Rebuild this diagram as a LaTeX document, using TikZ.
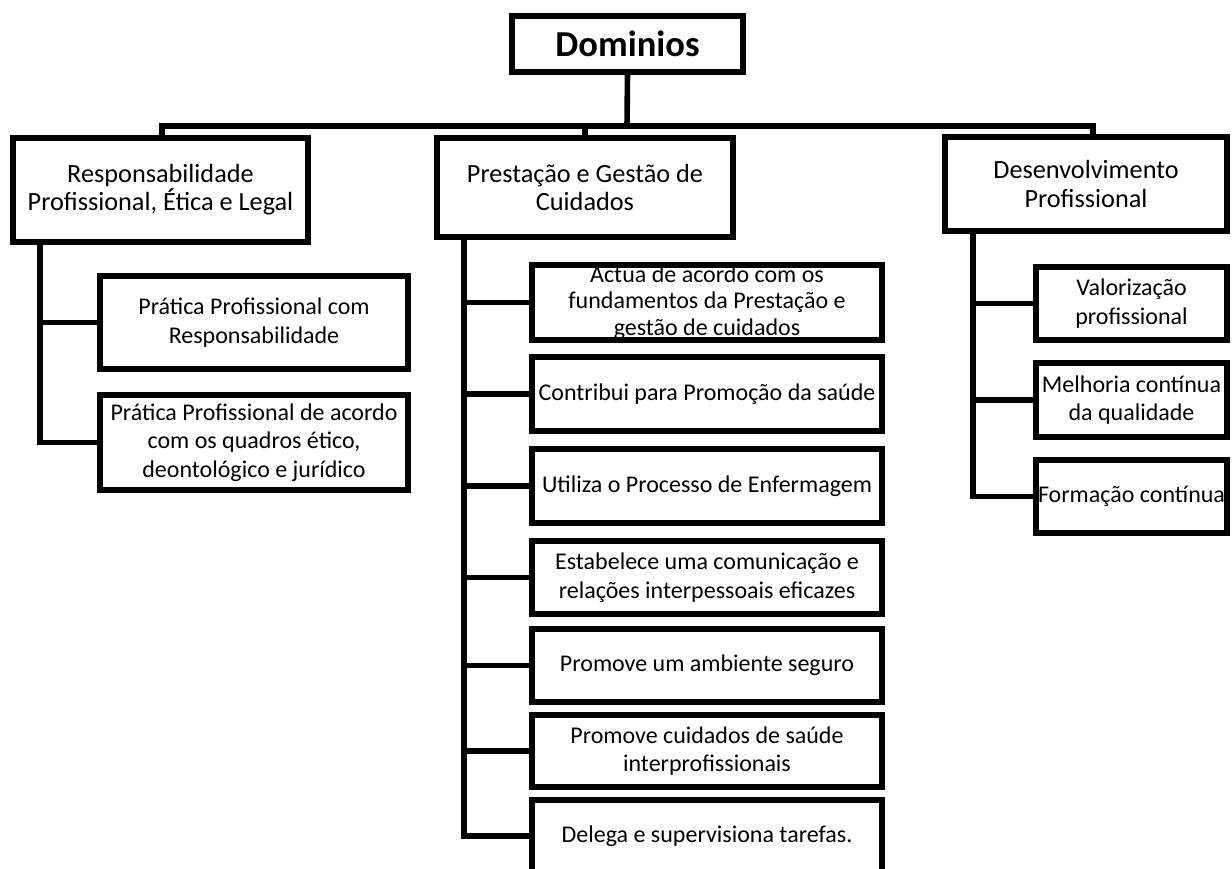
\documentclass[tikz,border=0pt]{standalone}
\usepackage{fontspec}
\setmainfont{Carlito}
\usetikzlibrary{calc}
\tikzset{
  bx/.style={draw, line width=4.2pt, rectangle, inner sep=0pt, align=center},
  topbox/.style={bx, font=\fontsize{27.4}{32}\selectfont\bfseries},
  lvlone/.style={bx, font=\fontsize{19.7}{21.2}\selectfont},
  lvltwo/.style={bx, font=\fontsize{18}{21.4}\selectfont},
  plaintxt/.style={inner sep=0pt, align=center, font=\fontsize{18}{20}\selectfont},
  conn/.style={line width=4.2pt, line join=miter}
}
\begin{document}
\begin{tikzpicture}[x=0.75pt,y=-0.75pt]
\useasboundingbox (0,0) rectangle (1232,868);
% top
\node[topbox, minimum width=173.25pt, minimum height=42pt] (dom) at (627.5,44) {Dominios};
% level one
\node[lvlone, minimum width=221.25pt, minimum height=78pt] (resp) at (160.5,190) {Responsabilidade\\Profissional, Ética e Legal};
\node[lvlone, minimum width=222pt, minimum height=74.25pt] (prest) at (585,187.5) {Prestação e Gestão de\\Cuidados};
\node[lvlone, minimum width=211.5pt, minimum height=70.5pt] (desenv) at (1086,184) {Desenvolvimento\\Profissional};
% level two, left
\node[lvltwo, minimum width=231pt, minimum height=69.75pt] (p1) at (254,322.5) {Prática Profissional com\\Responsabilidade};
\node[lvltwo, minimum width=231pt, minimum height=71.25pt] (p2) at (254,442.5) {Prática Profissional de acordo\\com os quadros ético,\\deontológico e jurídico};
% level two, middle
\node[plaintxt] (actuatxt) at (707,302.5) {Actua de acordo com os\\fundamentos da Prestação e\\gestão de cuidados};
\node[lvltwo, minimum width=262.5pt, minimum height=56.25pt] (actua) at (707,302.5) {};
\node[lvltwo, minimum width=262.5pt, minimum height=55.5pt] (contrib) at (707,394) {Contribui para Promoção da saúde};
\node[lvltwo, minimum width=262.5pt, minimum height=55.5pt] (utiliza) at (707,486) {Utiliza o Processo de Enfermagem};
\node[lvltwo, minimum width=262.5pt, minimum height=54.75pt] (estab) at (707,577.5) {Estabelece uma comunicação e\\relações interpessoais eficazes};
\node[lvltwo, minimum width=262.5pt, minimum height=54.75pt] (ambiente) at (707,665.5) {Promove um ambiente seguro};
\node[lvltwo, minimum width=262.5pt, minimum height=54pt] (cuidados) at (707,751) {Promove cuidados de saúde\\interprofissionais};
\node[lvltwo, minimum width=262.5pt, minimum height=54pt] (delega) at (707,836) {Delega e supervisiona tarefas.};
% level two, right
\node[lvltwo, minimum width=143.25pt, minimum height=54.75pt] (valor) at (1131.5,303.5) {Valorização\\profissional};
\node[lvltwo, minimum width=143.25pt, minimum height=55.5pt] (melhoria) at (1131.5,400) {Melhoria contínua\\da qualidade};
\node[lvltwo, minimum width=143.25pt, minimum height=54.75pt] (formacao) at (1131.5,496.5) {Formação contínua};
% connectors top
\coordinate (bus) at (627,126);
\draw[conn] (dom.south) -- (bus);
\draw[conn] ($(resp.north)+(1.5,0)$) |- (bus) -| ($(desenv.north)+(7,0)$);
\draw[conn] (prest.north) -- (prest.north |- bus);
% left branch
\coordinate (rv) at ($(resp.south west)+(30,0)$);
\draw[conn] (rv) |- (p2.west);
\draw[conn] (rv |- p1.west) -- (p1.west);
% middle branch
\coordinate (pv) at ($(prest.south west)+(30,0)$);
\draw[conn] (pv) |- (delega.west);
\foreach \n in {actua,contrib,utiliza,estab,ambiente,cuidados}
  \draw[conn] (pv |- \n.west) -- (\n.west);
% right branch
\coordinate (dv) at ($(desenv.south west)+(31,0)$);
\draw[conn] (dv) |- (formacao.west);
\foreach \n in {valor,melhoria}
  \draw[conn] (dv |- \n.west) -- (\n.west);
\end{tikzpicture}
\end{document}
